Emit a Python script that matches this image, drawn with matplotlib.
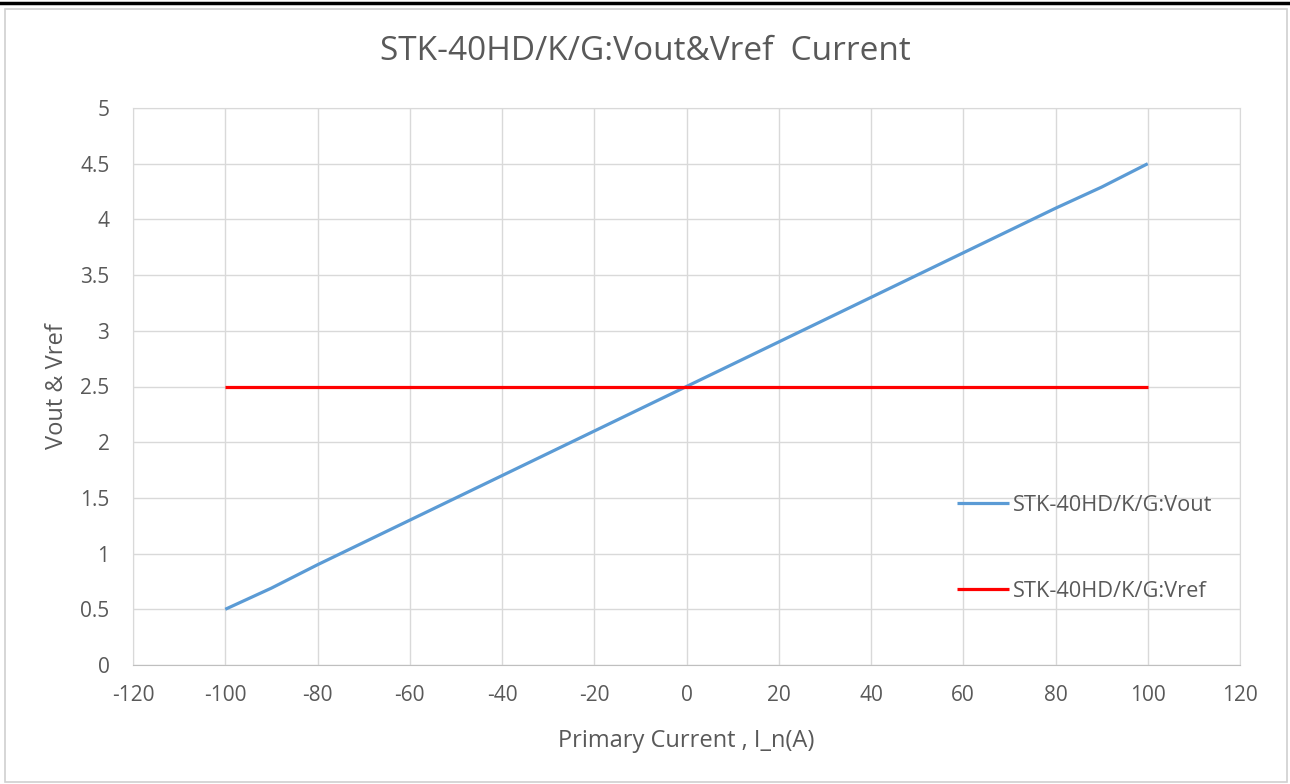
import matplotlib
matplotlib.use("Agg")
import matplotlib.pyplot as plt
from matplotlib.patches import Rectangle
from matplotlib.lines import Line2D

current = [-100, -90, -80, -70, -60, -50, -40, -30, -20, -10, 0, 10, 20, 30, 40, 50, 60, 70, 80, 90, 100]
vout = [0.5, 0.69, 0.9, 1.1, 1.3, 1.5, 1.7, 1.9, 2.1, 2.3, 2.5, 2.7, 2.9, 3.1, 3.3, 3.5, 3.7, 3.9, 4.1, 4.29, 4.5]
vref = [2.5] * len(current)
xticks = [-120, -100, -80, -60, -40, -20, 0, 20, 40, 60, 80, 100, 120]
yticks = [0, 0.5, 1, 1.5, 2, 2.5, 3, 3.5, 4, 4.5, 5]
ytick_labels = ["0", "0.5", "1", "1.5", "2", "2.5", "3", "3.5", "4", "4.5", "5"]
title = "STK-40HD/K/G:Vout&Vref  Current"
xlabel = "Primary Current , I_n(A)"
ylabel = "Vout & Vref"
labels = ["STK-40HD/K/G:Vout", "STK-40HD/K/G:Vref"]

plt.rcParams['font.family'] = ['Open Sans', 'DejaVu Sans']
plt.rcParams['axes.unicode_minus'] = False
txt = '#595959'
grid = '#D9D9D9'

fig = plt.figure(figsize=(12.9, 7.84), dpi=100)
fig.patch.set_facecolor('white')
# top black bar
fig.add_artist(Line2D([0, 1], [1 - 2.5/784, 1 - 2.5/784], color='black', lw=2.5, transform=fig.transFigure))
# chart frame
fig.add_artist(Rectangle((5/1290, 2/784), 1282/1290, 773/784, transform=fig.transFigure,
                         fill=False, edgecolor='#D0D0D0', lw=1.2))

ax = fig.add_axes([133/1290, 119/784, 1107/1290, 557/784])
ax.plot(current, vout, color='#5B9BD5', lw=2.3, label=labels[0], solid_capstyle='butt')
ax.plot(current, vref, color='#FF0000', lw=2.3, label=labels[1], solid_capstyle='butt')
ax.set_xlim(-120, 120)
ax.set_ylim(0, 5)
ax.set_xticks(xticks)
ax.set_yticks(yticks)
ax.set_yticklabels(ytick_labels)
ax.grid(True, color=grid, lw=1)
ax.set_axisbelow(True)
for s in ax.spines.values():
    s.set_color(grid)
ax.spines['bottom'].set_color('#BFBFBF')
ax.tick_params(length=0, labelsize=15, colors=txt)
ax.tick_params(axis='x', pad=14.5)
ax.tick_params(axis='y', pad=17)
ax.set_xlabel(xlabel, fontsize=17, color=txt)
ax.set_ylabel(ylabel, fontsize=17, color=txt)
ax.xaxis.set_label_coords(0.5, (665 - 741) / 557)
ax.xaxis.label.set_va('center')
ax.yaxis.set_label_coords((57 - 133) / 1107, 0.5)
ax.yaxis.label.set_va('center')
fig.text(0.5, 1 - 52/784, title, ha='center', va='center', fontsize=24, color=txt)
leg = ax.legend(loc='upper left', bbox_to_anchor=(0.744, 0.306), frameon=False, fontsize=15.7,
                labelspacing=3.0, handlelength=2.4, handletextpad=0.2, borderpad=0, borderaxespad=0)
for t in leg.get_texts():
    t.set_color(txt)
fig.savefig('out.png', dpi=100)
